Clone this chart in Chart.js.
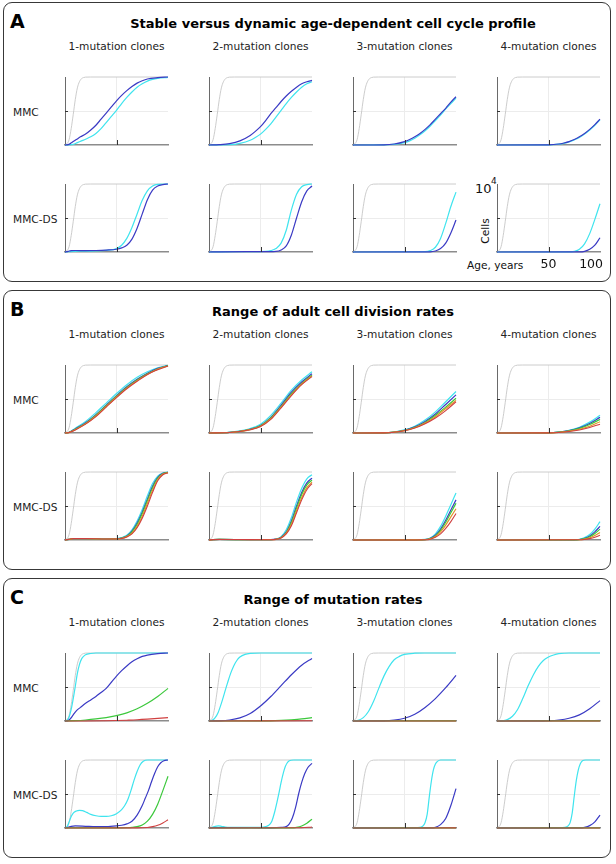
<!DOCTYPE html>
<html><head><meta charset="utf-8">
<script src="https://cdn.jsdelivr.net/npm/chart.js@4.4.1/dist/chart.umd.min.js"></script>
<style>
html,body{margin:0;padding:0;background:#fff}
body{width:616px;height:864px;position:relative;overflow:hidden;font-family:"DejaVu Sans",sans-serif;color:#111}
.box{position:absolute;left:3px;width:606px;height:278px;border:1.6px solid #383838;border-radius:9px;box-sizing:content-box}
.t{position:absolute;white-space:nowrap;line-height:1}
canvas{position:absolute}
</style></head><body>
<script>
// ---------- text ----------
const panelLetters = ['A','B','C'];
const panelTitles = ['Stable versus dynamic age-dependent cell cycle profile','Range of adult cell division rates','Range of mutation rates'];
const colHeaders = ['1-mutation clones','2-mutation clones','3-mutation clones','4-mutation clones'];
const rowLabels = ['MMC','MMC-DS'];
const xTickLabels = ['50','100'];

// ---------- data: [age (years), cells (x10^4)] ----------
const totalCells = [[0,0],[2,0.02],[4,0.08],[6,0.24],[8,0.45],[10,0.67],[12,0.84],[14,0.93],[16,0.975],[18,0.992],[20,0.998],[25,1],[100,1]];

// Panel A
const A_mmc1_blue = [[0,0],[3,0.005],[5,0.02],[8,0.05],[11,0.08],[15,0.12],[20,0.16],[25,0.22],[30,0.29],[35,0.38],[40,0.47],[45,0.56],[50,0.65],[55,0.73],[60,0.8],[65,0.86],[70,0.91],[75,0.945],[80,0.97],[90,0.99],[100,1]];
const A_mmc1_cyan = [[0,0],[5,0.002],[8,0.01],[12,0.035],[16,0.06],[20,0.085],[25,0.12],[30,0.17],[35,0.24],[40,0.33],[45,0.42],[50,0.51],[55,0.61],[60,0.7],[65,0.78],[70,0.85],[75,0.9],[80,0.94],[85,0.965],[90,0.98],[100,0.995]];
const A_mmc2_blue = [[0,0],[10,0.005],[20,0.02],[30,0.06],[40,0.14],[45,0.2],[50,0.27],[55,0.36],[60,0.46],[65,0.55],[70,0.64],[75,0.72],[80,0.79],[85,0.85],[90,0.9],[95,0.93],[100,0.95]];
const A_mmc2_cyan = [[0,0],[20,0.005],[30,0.025],[40,0.07],[45,0.11],[50,0.16],[55,0.23],[60,0.31],[65,0.41],[70,0.51],[75,0.61],[80,0.7],[85,0.78],[90,0.85],[95,0.9],[100,0.93]];
const A_mmc3_blue = [[0,0],[30,0.003],[40,0.015],[50,0.05],[55,0.08],[60,0.12],[65,0.17],[70,0.23],[75,0.3],[80,0.38],[85,0.46],[90,0.54],[95,0.63],[100,0.71]];
const A_mmc3_cyan = [[0,0],[30,0.002],[40,0.01],[50,0.035],[55,0.06],[60,0.1],[65,0.15],[70,0.21],[75,0.28],[80,0.36],[85,0.44],[90,0.53],[95,0.61],[100,0.69]];
const A_mmc4_blue = [[0,0],[50,0.003],[60,0.015],[65,0.03],[70,0.05],[75,0.08],[80,0.12],[85,0.17],[90,0.23],[95,0.3],[100,0.38]];
const A_mmc4_cyan = [[0,0],[50,0.002],[60,0.012],[65,0.025],[70,0.045],[75,0.075],[80,0.11],[85,0.16],[90,0.22],[95,0.29],[100,0.37]];
const A_ds1_blue = [[0,0],[2,0.005],[4,0.015],[6,0.02],[10,0.022],[20,0.02],[30,0.022],[40,0.028],[50,0.04],[55,0.06],[60,0.1],[65,0.19],[70,0.35],[75,0.56],[80,0.77],[85,0.91],[90,0.97],[95,0.99],[100,1]];
const A_ds1_cyan = [[0,0],[4,0.005],[8,0.01],[20,0.012],[30,0.016],[40,0.025],[50,0.05],[55,0.1],[60,0.2],[65,0.36],[70,0.56],[75,0.76],[80,0.9],[85,0.97],[90,0.995],[100,1]];
const A_ds2_blue = [[0,0],[10,0.003],[50,0.005],[65,0.01],[70,0.03],[75,0.09],[80,0.25],[85,0.5],[90,0.74],[95,0.9],[100,0.97]];
const A_ds2_cyan = [[0,0],[10,0.003],[40,0.005],[55,0.01],[60,0.02],[65,0.05],[70,0.13],[75,0.32],[78,0.5],[80,0.62],[85,0.85],[90,0.96],[95,0.99],[100,1]];
const A_ds3_blue = [[0,0],[75,0.003],[80,0.015],[85,0.05],[90,0.13],[95,0.28],[100,0.47]];
const A_ds3_cyan = [[0,0],[70,0.005],[75,0.02],[80,0.07],[85,0.2],[90,0.42],[95,0.67],[100,0.88]];
const A_ds4_blue = [[0,0],[80,0.002],[85,0.01],[90,0.04],[95,0.1],[100,0.21]];
const A_ds4_cyan = [[0,0],[70,0.002],[75,0.01],[80,0.04],[85,0.12],[90,0.27],[95,0.48],[100,0.71]];

// Panel B
const B_mmc1_cyan = [[0,0],[3,0.005],[6,0.03],[10,0.07],[20,0.17],[30,0.3],[40,0.44],[50,0.58],[60,0.71],[70,0.82],[80,0.9],[90,0.96],[100,0.995]];
const B_mmc1_blue = [[0,0],[3,0.004],[6,0.025],[10,0.06],[20,0.15],[30,0.27],[40,0.41],[50,0.55],[60,0.68],[70,0.79],[80,0.88],[90,0.95],[100,0.99]];
const B_mmc1_green = [[0,0],[3,0.004],[6,0.022],[10,0.055],[20,0.14],[30,0.26],[40,0.4],[50,0.54],[60,0.67],[70,0.78],[80,0.87],[90,0.94],[100,0.99]];
const B_mmc1_orange = [[0,0],[3,0.003],[6,0.02],[10,0.05],[20,0.135],[30,0.25],[40,0.39],[50,0.53],[60,0.66],[70,0.77],[80,0.86],[90,0.94],[100,0.985]];
const B_mmc1_red = [[0,0],[3,0.003],[6,0.018],[10,0.045],[20,0.13],[30,0.24],[40,0.38],[50,0.52],[60,0.65],[70,0.76],[80,0.86],[90,0.93],[100,0.985]];
const B_mmc2_cyan = [[0,0],[20,0.01],[30,0.03],[40,0.065],[50,0.13],[60,0.26],[70,0.44],[80,0.63],[90,0.78],[100,0.9]];
const B_mmc2_blue = [[0,0],[20,0.008],[30,0.025],[40,0.055],[50,0.11],[60,0.23],[70,0.41],[80,0.6],[90,0.75],[100,0.87]];
const B_mmc2_green = [[0,0],[20,0.008],[30,0.024],[40,0.053],[50,0.105],[60,0.22],[70,0.39],[80,0.58],[90,0.73],[100,0.85]];
const B_mmc2_orange = [[0,0],[20,0.007],[30,0.023],[40,0.05],[50,0.1],[60,0.21],[70,0.38],[80,0.56],[90,0.72],[100,0.84]];
const B_mmc2_red = [[0,0],[20,0.007],[30,0.022],[40,0.048],[50,0.095],[60,0.2],[70,0.37],[80,0.55],[90,0.71],[100,0.83]];
const B_mmc3_cyan = [[0,0],[30,0.003],[40,0.015],[50,0.045],[60,0.1],[70,0.19],[80,0.31],[90,0.46],[100,0.61]];
const B_mmc3_blue = [[0,0],[30,0.003],[40,0.014],[50,0.04],[60,0.09],[70,0.17],[80,0.28],[90,0.42],[100,0.56]];
const B_mmc3_green = [[0,0],[30,0.003],[40,0.013],[50,0.037],[60,0.083],[70,0.155],[80,0.26],[90,0.38],[100,0.51]];
const B_mmc3_orange = [[0,0],[30,0.002],[40,0.012],[50,0.034],[60,0.077],[70,0.145],[80,0.24],[90,0.36],[100,0.48]];
const B_mmc3_red = [[0,0],[30,0.002],[40,0.011],[50,0.032],[60,0.072],[70,0.135],[80,0.22],[90,0.33],[100,0.46]];
const B_mmc4_cyan = [[0,0],[50,0.004],[60,0.015],[70,0.04],[80,0.085],[90,0.16],[100,0.26]];
const B_mmc4_blue = [[0,0],[50,0.003],[60,0.013],[70,0.035],[80,0.075],[90,0.14],[100,0.23]];
const B_mmc4_green = [[0,0],[50,0.003],[60,0.012],[70,0.032],[80,0.067],[90,0.125],[100,0.2]];
const B_mmc4_orange = [[0,0],[50,0.002],[60,0.01],[70,0.027],[80,0.055],[90,0.1],[100,0.165]];
const B_mmc4_red = [[0,0],[50,0.002],[60,0.008],[70,0.022],[80,0.045],[90,0.08],[100,0.13]];
const B_ds1_cyan = [[0,0],[4,0.01],[8,0.02],[20,0.02],[40,0.015],[50,0.02],[55,0.035],[60,0.07],[65,0.15],[70,0.28],[75,0.45],[80,0.65],[85,0.83],[90,0.94],[95,0.985],[100,1]];
const B_ds1_blue = [[0,0],[4,0.01],[8,0.02],[20,0.02],[40,0.015],[50,0.018],[55,0.03],[60,0.06],[65,0.13],[70,0.25],[75,0.41],[80,0.6],[85,0.79],[90,0.92],[95,0.98],[100,0.995]];
const B_ds1_green = [[0,0],[4,0.01],[8,0.02],[20,0.02],[40,0.015],[50,0.017],[55,0.028],[60,0.055],[65,0.12],[70,0.23],[75,0.39],[80,0.58],[85,0.77],[90,0.91],[95,0.975],[100,0.995]];
const B_ds1_orange = [[0,0],[4,0.01],[8,0.02],[20,0.02],[40,0.015],[50,0.016],[55,0.025],[60,0.05],[65,0.1],[70,0.2],[75,0.35],[80,0.54],[85,0.73],[90,0.89],[95,0.97],[100,0.99]];
const B_ds1_red = [[0,0],[4,0.01],[8,0.02],[20,0.02],[40,0.015],[50,0.015],[55,0.022],[60,0.045],[65,0.09],[70,0.18],[75,0.32],[80,0.5],[85,0.7],[90,0.87],[95,0.96],[100,0.99]];
const B_ds2_cyan = [[0,0],[4,0.005],[10,0.008],[40,0.005],[60,0.005],[65,0.015],[70,0.05],[75,0.15],[80,0.33],[85,0.56],[90,0.76],[95,0.9],[100,0.96]];
const B_ds2_blue = [[0,0],[4,0.005],[10,0.008],[40,0.005],[60,0.005],[65,0.012],[70,0.04],[75,0.12],[80,0.28],[85,0.5],[90,0.7],[95,0.84],[100,0.91]];
const B_ds2_green = [[0,0],[4,0.005],[10,0.008],[40,0.005],[60,0.005],[65,0.011],[70,0.037],[75,0.11],[80,0.26],[85,0.47],[90,0.67],[95,0.81],[100,0.88]];
const B_ds2_orange = [[0,0],[4,0.005],[10,0.008],[40,0.005],[60,0.005],[65,0.01],[70,0.033],[75,0.1],[80,0.23],[85,0.43],[90,0.62],[95,0.77],[100,0.85]];
const B_ds2_red = [[0,0],[4,0.005],[10,0.008],[40,0.005],[60,0.004],[65,0.009],[70,0.03],[75,0.09],[80,0.21],[85,0.4],[90,0.59],[95,0.74],[100,0.83]];
const B_ds3_cyan = [[0,0],[60,0.002],[70,0.008],[75,0.03],[80,0.09],[85,0.2],[90,0.35],[95,0.52],[100,0.69]];
const B_ds3_blue = [[0,0],[60,0.002],[70,0.006],[75,0.024],[80,0.07],[85,0.16],[90,0.29],[95,0.44],[100,0.59]];
const B_ds3_green = [[0,0],[60,0.002],[70,0.005],[75,0.02],[80,0.06],[85,0.14],[90,0.26],[95,0.4],[100,0.54]];
const B_ds3_orange = [[0,0],[60,0.001],[70,0.004],[75,0.016],[80,0.05],[85,0.12],[90,0.22],[95,0.34],[100,0.46]];
const B_ds3_red = [[0,0],[60,0.001],[70,0.003],[75,0.012],[80,0.04],[85,0.09],[90,0.17],[95,0.27],[100,0.39]];
const B_ds4_cyan = [[0,0],[75,0.002],[80,0.01],[85,0.035],[90,0.08],[95,0.16],[100,0.27]];
const B_ds4_blue = [[0,0],[75,0.001],[80,0.007],[85,0.025],[90,0.06],[95,0.12],[100,0.2]];
const B_ds4_green = [[0,0],[75,0.001],[80,0.006],[85,0.02],[90,0.047],[95,0.095],[100,0.16]];
const B_ds4_orange = [[0,0],[80,0.004],[85,0.013],[90,0.032],[95,0.065],[100,0.11]];
const B_ds4_red = [[0,0],[80,0.003],[85,0.008],[90,0.02],[95,0.04],[100,0.07]];

// Panel C
const C_mmc1_cyan = [[0,0],[2,0.01],[4,0.06],[6,0.17],[8,0.33],[10,0.51],[12,0.7],[14,0.83],[16,0.91],[18,0.95],[20,0.975],[25,0.993],[30,1],[100,1]];
const C_mmc1_blue = [[0,0],[3,0.005],[5,0.03],[8,0.09],[11,0.15],[15,0.2],[20,0.26],[25,0.31],[30,0.36],[35,0.42],[40,0.48],[45,0.57],[50,0.66],[55,0.74],[60,0.81],[65,0.87],[70,0.915],[75,0.95],[80,0.97],[90,0.99],[100,1]];
const C_mmc1_green = [[0,0],[10,0.005],[20,0.015],[30,0.03],[40,0.05],[50,0.08],[60,0.12],[70,0.18],[80,0.26],[90,0.36],[100,0.48]];
const C_mmc1_red = [[0,0],[20,0.001],[40,0.004],[50,0.007],[60,0.012],[70,0.018],[80,0.027],[90,0.038],[100,0.05]];
const C_mmc2_cyan = [[0,0],[3,0.01],[6,0.05],[9,0.13],[12,0.26],[15,0.41],[18,0.56],[21,0.7],[24,0.81],[27,0.89],[30,0.94],[35,0.98],[40,0.995],[50,1],[100,1]];
const C_mmc2_blue = [[0,0],[10,0.003],[20,0.015],[30,0.045],[40,0.11],[50,0.22],[60,0.36],[70,0.52],[80,0.68],[90,0.82],[100,0.92]];
const C_mmc2_green = [[0,0],[60,0.003],[70,0.008],[80,0.017],[90,0.03],[100,0.05]];
const C_mmc2_red = [[0,0],[100,0.003]];
const C_mmc3_cyan = [[0,0],[5,0.01],[10,0.05],[15,0.14],[20,0.29],[25,0.48],[30,0.66],[35,0.8],[40,0.9],[45,0.95],[50,0.98],[60,0.997],[70,1],[100,1]];
const C_mmc3_blue = [[0,0],[30,0.002],[40,0.012],[50,0.04],[60,0.1],[70,0.2],[80,0.33],[90,0.49],[100,0.67]];
const C_mmc3_green = [[0,0],[100,0.002]];
const C_mmc3_red = [[0,0],[100,0.001]];
const C_mmc4_cyan = [[0,0],[5,0.003],[10,0.02],[15,0.07],[20,0.17],[25,0.33],[30,0.51],[35,0.67],[40,0.8],[45,0.89],[50,0.94],[55,0.97],[60,0.99],[70,1],[100,1]];
const C_mmc4_blue = [[0,0],[45,0.002],[50,0.004],[60,0.015],[70,0.04],[80,0.09],[90,0.18],[100,0.3]];
const C_mmc4_green = [[0,0],[100,0.001]];
const C_mmc4_red = [[0,0],[100,0.001]];
const C_ds1_cyan = [[0,0],[2,0.02],[4,0.09],[6,0.17],[8,0.22],[11,0.25],[14,0.26],[17,0.255],[21,0.23],[25,0.2],[30,0.18],[35,0.17],[40,0.17],[45,0.18],[50,0.21],[55,0.27],[58,0.33],[61,0.42],[64,0.55],[67,0.7],[70,0.83],[73,0.93],[76,0.98],[80,1],[100,1]];
const C_ds1_blue = [[0,0],[3,0.01],[6,0.025],[10,0.03],[20,0.025],[30,0.02],[40,0.02],[50,0.03],[55,0.04],[60,0.06],[65,0.1],[70,0.19],[75,0.33],[78,0.44],[81,0.55],[84,0.68],[87,0.8],[90,0.9],[93,0.96],[96,0.99],[100,1]];
const C_ds1_green = [[0,0],[10,0.003],[50,0.003],[60,0.006],[65,0.01],[70,0.02],[75,0.045],[80,0.1],[85,0.2],[90,0.35],[95,0.55],[100,0.76]];
const C_ds1_red = [[0,0],[70,0.002],[80,0.008],[85,0.02],[90,0.04],[95,0.075],[100,0.12]];
const C_ds2_cyan = [[0,0],[3,0.01],[6,0.025],[9,0.03],[12,0.025],[16,0.015],[20,0.01],[30,0.008],[40,0.008],[50,0.01],[55,0.02],[58,0.04],[61,0.1],[64,0.25],[66,0.38],[68,0.52],[70,0.67],[72,0.8],[74,0.9],[76,0.96],[78,0.99],[82,1],[100,1]];
const C_ds2_blue = [[0,0],[5,0.005],[20,0.005],[60,0.003],[70,0.008],[75,0.02],[78,0.06],[81,0.15],[84,0.3],[87,0.5],[90,0.67],[93,0.8],[96,0.89],[100,0.95]];
const C_ds2_green = [[0,0],[80,0.002],[85,0.01],[90,0.03],[95,0.07],[100,0.13]];
const C_ds2_red = [[0,0],[90,0.003],[100,0.015]];
const C_ds3_cyan = [[0,0],[60,0.002],[65,0.008],[68,0.03],[70,0.08],[72,0.2],[74,0.45],[76,0.68],[78,0.85],[80,0.94],[82,0.98],[85,1],[100,1]];
const C_ds3_blue = [[0,0],[75,0.002],[80,0.01],[85,0.05],[90,0.14],[95,0.33],[100,0.58]];
const C_ds3_green = [[0,0],[100,0.003]];
const C_ds3_red = [[0,0],[100,0.002]];
const C_ds4_cyan = [[0,0],[60,0.002],[66,0.008],[69,0.03],[71,0.08],[73,0.22],[75,0.47],[77,0.7],[79,0.86],[81,0.95],[83,0.99],[86,1],[100,1]];
const C_ds4_blue = [[0,0],[80,0.002],[85,0.01],[90,0.035],[95,0.09],[100,0.19]];
const C_ds4_green = [[0,0],[100,0.002]];
const C_ds4_red = [[0,0],[100,0.001]];

// ---------- styles ----------
const COLORS = {gray:'#c6c6c6', cyan:'#3fe4ee', blue:'#3a3ac4', green:'#3cc83c', orange:'#e0962a', red:'#d04040'};
const WIDTHS = {gray:0.9, cyan:1.2, blue:1.2, green:1.2, orange:1.2, red:1.1};

// [panel,row,col, series in plotting order (later = on top)]
const specs = [
 [0,0,0,{cyan:A_mmc1_cyan,blue:A_mmc1_blue}],
 [0,0,1,{cyan:A_mmc2_cyan,blue:A_mmc2_blue}],
 [0,0,2,{cyan:A_mmc3_cyan,blue:A_mmc3_blue}],
 [0,0,3,{cyan:A_mmc4_cyan,blue:A_mmc4_blue}],
 [0,1,0,{cyan:A_ds1_cyan,blue:A_ds1_blue}],
 [0,1,1,{cyan:A_ds2_cyan,blue:A_ds2_blue}],
 [0,1,2,{cyan:A_ds3_cyan,blue:A_ds3_blue}],
 [0,1,3,{cyan:A_ds4_cyan,blue:A_ds4_blue}],
 [1,0,0,{cyan:B_mmc1_cyan,blue:B_mmc1_blue,green:B_mmc1_green,orange:B_mmc1_orange,red:B_mmc1_red}],
 [1,0,1,{cyan:B_mmc2_cyan,blue:B_mmc2_blue,green:B_mmc2_green,orange:B_mmc2_orange,red:B_mmc2_red}],
 [1,0,2,{cyan:B_mmc3_cyan,blue:B_mmc3_blue,green:B_mmc3_green,orange:B_mmc3_orange,red:B_mmc3_red}],
 [1,0,3,{cyan:B_mmc4_cyan,blue:B_mmc4_blue,green:B_mmc4_green,orange:B_mmc4_orange,red:B_mmc4_red}],
 [1,1,0,{cyan:B_ds1_cyan,blue:B_ds1_blue,green:B_ds1_green,orange:B_ds1_orange,red:B_ds1_red}],
 [1,1,1,{cyan:B_ds2_cyan,blue:B_ds2_blue,green:B_ds2_green,orange:B_ds2_orange,red:B_ds2_red}],
 [1,1,2,{cyan:B_ds3_cyan,blue:B_ds3_blue,green:B_ds3_green,orange:B_ds3_orange,red:B_ds3_red}],
 [1,1,3,{cyan:B_ds4_cyan,blue:B_ds4_blue,green:B_ds4_green,orange:B_ds4_orange,red:B_ds4_red}],
 [2,0,0,{cyan:C_mmc1_cyan,blue:C_mmc1_blue,green:C_mmc1_green,red:C_mmc1_red}],
 [2,0,1,{cyan:C_mmc2_cyan,blue:C_mmc2_blue,green:C_mmc2_green,red:C_mmc2_red}],
 [2,0,2,{cyan:C_mmc3_cyan,blue:C_mmc3_blue,green:C_mmc3_green,red:C_mmc3_red}],
 [2,0,3,{cyan:C_mmc4_cyan,blue:C_mmc4_blue,green:C_mmc4_green,red:C_mmc4_red}],
 [2,1,0,{cyan:C_ds1_cyan,blue:C_ds1_blue,green:C_ds1_green,red:C_ds1_red}],
 [2,1,1,{cyan:C_ds2_cyan,blue:C_ds2_blue,green:C_ds2_green,red:C_ds2_red}],
 [2,1,2,{cyan:C_ds3_cyan,blue:C_ds3_blue,green:C_ds3_green,red:C_ds3_red}],
 [2,1,3,{cyan:C_ds4_cyan,blue:C_ds4_blue,green:C_ds4_green,red:C_ds4_red}]
];

// ---------- layout ----------
const panelTops = [2, 290, 578];
const colLefts = [65, 209, 353, 497];
const rowOffsets = [75, 182];
const PW = 103, PH = 68;
const PL = 40, PT = 10, PR = 6, PB = 22;

function txt(s, x, y, css, align){
  const d = document.createElement('div');
  d.className = 't';
  d.textContent = s;
  d.style.cssText += css;
  d.style.left = x + 'px'; d.style.top = y + 'px';
  d.style.transform = align === 'left' ? 'translate(0,-50%)' : 'translate(-50%,-50%)';
  document.body.appendChild(d);
  return d;
}

panelTops.forEach((T, p) => {
  const b = document.createElement('div');
  b.className = 'box'; b.style.top = T + 'px';
  document.body.appendChild(b);
  txt(panelLetters[p], 10, T + 19, 'font-weight:bold;font-size:19px;color:#000;', 'left');
  txt(panelTitles[p], 333, T + 21, 'font-weight:bold;font-size:13px;color:#000;');
  colHeaders.forEach((h, c) => txt(h, colLefts[c] + PW / 2, T + 44, 'font-size:10.6px;color:#222;'));
  rowLabels.forEach((r, i) => txt(r, 13, T + rowOffsets[i] + PH / 2 + 1, 'font-size:10.6px;color:#222;', 'left'));
});

// axis-label texts for the annotated panel
const annT = panelTops[0] + rowOffsets[1];
txt('10', 475, annT + 4, 'font-size:13px;color:#111;', 'left');
txt('4', 491, annT - 3, 'font-size:9px;color:#111;', 'left');
const cells = txt('Cells', 485, annT + 47, 'font-size:10.6px;color:#111;');
cells.style.transform = 'translate(-50%,-50%) rotate(-90deg)';
txt('Age, years', 467, annT + PH + 13, 'font-size:10.6px;color:#111;', 'left');

const axisMarks = {
  id: 'axisMarks',
  afterDatasetsDraw(chart, args, opts){
    const {ctx, chartArea: a, scales: {x, y}} = chart;
    ctx.save();
    ctx.strokeStyle = '#333'; ctx.lineWidth = 1;
    const xm = Math.round(x.getPixelForValue(50)) + 0.5;
    ctx.beginPath(); ctx.moveTo(xm, a.bottom); ctx.lineTo(xm, a.bottom - 5); ctx.stroke();
    const ym = Math.round(y.getPixelForValue(0.5)) + 0.5;
    ctx.beginPath(); ctx.moveTo(a.left, ym); ctx.lineTo(a.left + 3, ym); ctx.stroke();
    if (opts.labels){
      ctx.fillStyle = '#111'; ctx.font = '12.5px "DejaVu Sans"'; ctx.textBaseline = 'middle';
      ctx.textAlign = 'center';
      ctx.fillText(xTickLabels[0], x.getPixelForValue(50), a.bottom + 13);
      ctx.textAlign = 'right';
      ctx.fillText(xTickLabels[1], x.getPixelForValue(100) + 3, a.bottom + 13);
    }
    ctx.restore();
  }
};

const gridCol = (mid) => (ctx) => (ctx.tick && Math.abs(ctx.tick.value - mid) < 1e-9) ? '#ececec' : 'rgba(0,0,0,0)';

specs.forEach(([p, r, c, series]) => {
  const left = colLefts[c], top = panelTops[p] + rowOffsets[r];
  const cv = document.createElement('canvas');
  cv.width = PW + PL + PR; cv.height = PH + PT + PB;
  cv.style.left = (left - PL) + 'px'; cv.style.top = (top - PT) + 'px';
  cv.style.width = cv.width + 'px'; cv.style.height = cv.height + 'px';
  document.body.appendChild(cv);
  // Chart.js draws dataset 0 on top, so list the last-plotted series first
  const datasets = Object.entries(series).reverse().map(([name, arr]) => ({
    data: arr.map(([x, y]) => ({x, y})),
    borderColor: COLORS[name], borderWidth: WIDTHS[name],
    pointRadius: 0, cubicInterpolationMode: 'monotone', fill: false, clip: 3
  }));
  datasets.push({data: totalCells.map(([x, y]) => ({x, y})), borderColor: COLORS.gray, borderWidth: WIDTHS.gray,
    pointRadius: 0, cubicInterpolationMode: 'monotone', fill: false, clip: 3});
  new Chart(cv, {
    type: 'line',
    data: {datasets},
    plugins: [axisMarks],
    options: {
      responsive: false, animation: false, devicePixelRatio: 1,
      layout: {padding: {left: PL, top: PT, right: PR, bottom: PB}},
      plugins: {legend: {display: false}, tooltip: {enabled: false}, axisMarks: {labels: (p === 0 && r === 1 && c === 3)}},
      scales: {
        x: {type: 'linear', min: 0, max: 100, ticks: {display: false, stepSize: 50},
            grid: {color: gridCol(50), drawTicks: false, lineWidth: 1},
            border: {display: true, color: '#8c8c8c', width: 1.5}},
        y: {type: 'linear', min: 0, max: 1, ticks: {display: false, stepSize: 0.5},
            grid: {color: gridCol(0.5), drawTicks: false, lineWidth: 1},
            border: {display: true, color: '#6a6a6a', width: 1}}
      }
    }
  });
});
</script>
</body></html>
